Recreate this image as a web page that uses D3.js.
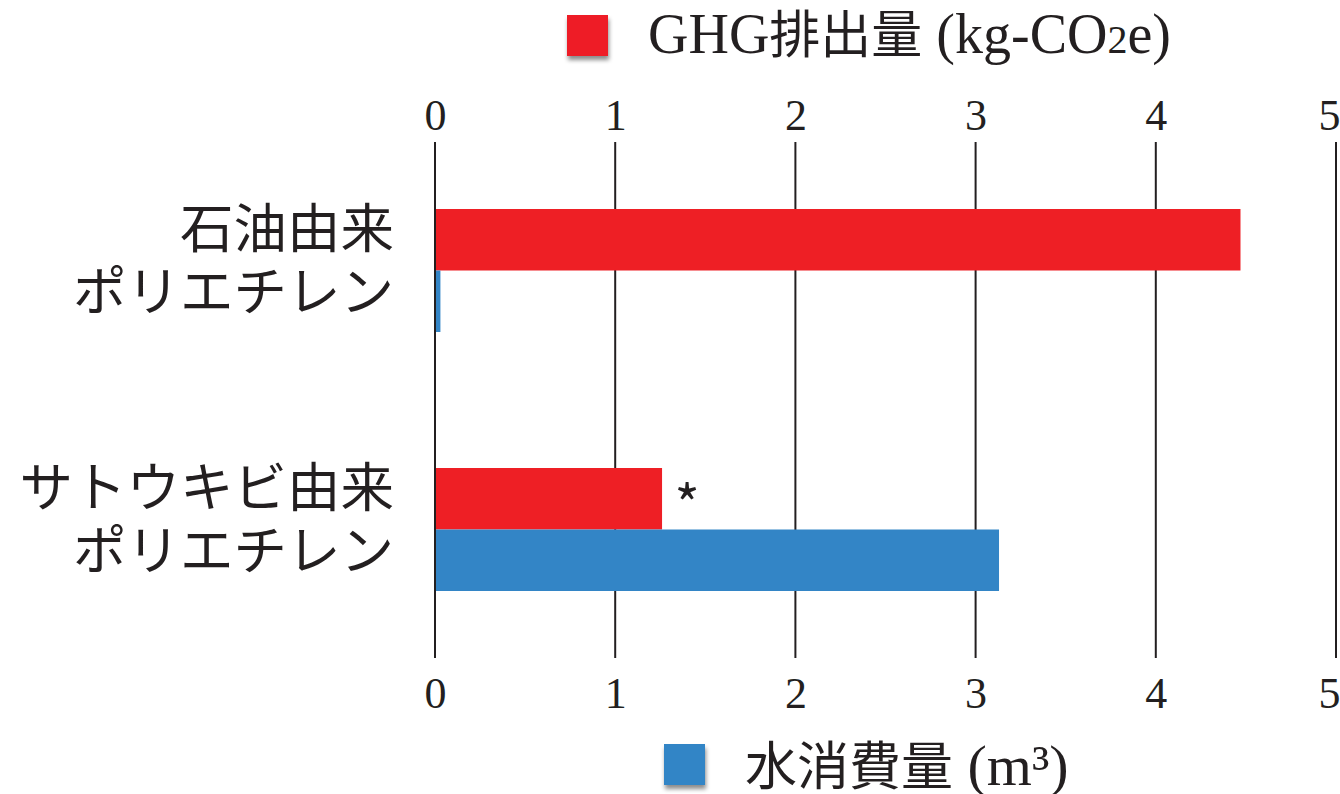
<!DOCTYPE html>
<html>
<head>
<meta charset="utf-8">
<script src="https://cdn.jsdelivr.net/npm/d3@7"></script>
<style>
  html, body { margin: 0; padding: 0; background: #fff; }
  svg { display: block; }
</style>
</head>
<body>
<svg id="chart" width="1340" height="794"></svg>
<script>
// ---- data ----
const categories = [["石油由来", "ポリエチレン"], ["サトウキビ由来", "ポリエチレン"]];
const seriesNames = ["GHG", "水"];
const ghgValues = [4.47, 1.26];
const waterValues = [0.03, 3.13];
const tickValues = [0, 1, 2, 3, 4, 5];
const ghgLegend = [["GHG", "latin"], ["排出量", "cjk"], [" (kg-CO", "latin"], ["2", "small"], ["e)", "latin"]];
const waterLegend = [["水消費量", "cjk"], [" (m", "latin"], ["³", "latin"], [")", "latin"]];
const footnoteMarks = ["", "*"];

// ---- styles ----
const RED = "#ee1f25";
const BLUE = "#3385c6";
const INK = "#231f20";
const SERIF = "'Liberation Serif', 'DejaVu Serif', serif";
const CJK = "'Noto Sans CJK JP', 'Noto Sans', sans-serif";

const svg = d3.select("#chart");

const defs = svg.append("defs");
const f = defs.append("filter").attr("id", "shadow")
  .attr("x", "-30%").attr("y", "-30%").attr("width", "160%").attr("height", "170%");
f.append("feDropShadow").attr("dx", 1).attr("dy", 4).attr("stdDeviation", 2.2)
  .attr("flood-color", "#000").attr("flood-opacity", 0.45);

const x = d3.scaleLinear().domain([0, 5]).range([435, 1336]);
const yTop = 142, yBot = 658;
const y = d3.scaleBand().domain(d3.range(categories.length)).range([141, 659]).paddingInner(0).paddingOuter(0);
const ySub = d3.scaleBand().domain(seriesNames).range([-61.5, 61.5]).padding(0);

// gridlines
svg.append("g").selectAll("line").data(tickValues).join("line")
  .attr("x1", d => x(d)).attr("x2", d => x(d))
  .attr("y1", yTop).attr("y2", yBot)
  .attr("stroke", INK).attr("stroke-width", 2);

function styleTicks(g) {
  g.select(".domain").remove();
  g.selectAll("text").attr("font-family", SERIF).attr("font-size", 44).attr("fill", INK)
    .attr("dy", 0)
    .attr("dx", d => d === tickValues[tickValues.length - 1] ? -7 : 0);
}

// top axis labels
const topAxis = d3.axisTop(x).tickValues(tickValues).tickSize(0).tickPadding(0).tickFormat(d3.format("d"));
svg.append("g").attr("transform", "translate(0,130)").call(topAxis).call(styleTicks);

const botAxis = d3.axisBottom(x).tickValues(tickValues).tickSize(0).tickPadding(0).tickFormat(d3.format("d"));
svg.append("g").attr("transform", "translate(0,708)").call(botAxis).call(styleTicks);

// bars
const barData = [];
categories.forEach((c, i) => {
  barData.push({ i, s: "GHG", v: ghgValues[i], color: RED });
  barData.push({ i, s: "水", v: waterValues[i], color: BLUE });
});
svg.append("g").selectAll("rect").data(barData).join("rect")
  .attr("x", x(0) + 1)
  .attr("y", d => y(d.i) + y.bandwidth() / 2 + ySub(d.s))
  .attr("width", d => x(d.v) - x(0) - 1)
  .attr("height", ySub.bandwidth())
  .attr("fill", d => d.color);

// footnote asterisk
svg.append("g").selectAll("text").data(ghgValues).join("text")
  .attr("x", d => x(d) + 25)
  .attr("y", (d, i) => y(i) + y.bandwidth() / 2 + ySub("GHG") + 57)
  .attr("text-anchor", "middle")
  .attr("font-family", CJK).attr("font-size", 54).attr("fill", INK)
  .text((d, i) => footnoteMarks[i]);

// category labels
const catG = svg.append("g");
categories.forEach((lines, i) => {
  const cy = y(i) + y.bandwidth() / 2;
  lines.forEach((t, j) => {
    catG.append("text")
      .attr("x", 394)
      .attr("y", cy + (j === 0 ? -23 : 40))
      .attr("text-anchor", "end")
      .attr("font-family", CJK).attr("font-size", 53.5).attr("fill", INK)
      .text(t);
  });
});

// legends
function legend(sx, sy, color, tx, ty, parts, cjkSize, latSize) {
  svg.append("rect").attr("x", sx).attr("y", sy).attr("width", 41).attr("height", 41)
    .attr("fill", color).attr("filter", "url(#shadow)");
  const t = svg.append("text").attr("x", tx).attr("y", ty).attr("fill", INK);
  parts.forEach(([s, k]) => {
    const ts = t.append("tspan").text(s);
    if (k === "cjk") ts.attr("font-family", CJK).attr("font-size", cjkSize);
    else if (k === "small") ts.attr("font-family", SERIF).attr("font-size", 40);
    else ts.attr("font-family", SERIF).attr("font-size", latSize);
  });
}
legend(567, 15, RED, 648, 53, ghgLegend, 51, 56);
legend(664, 744, BLUE, 745, 785, waterLegend, 52, 58);
</script>
</body>
</html>
